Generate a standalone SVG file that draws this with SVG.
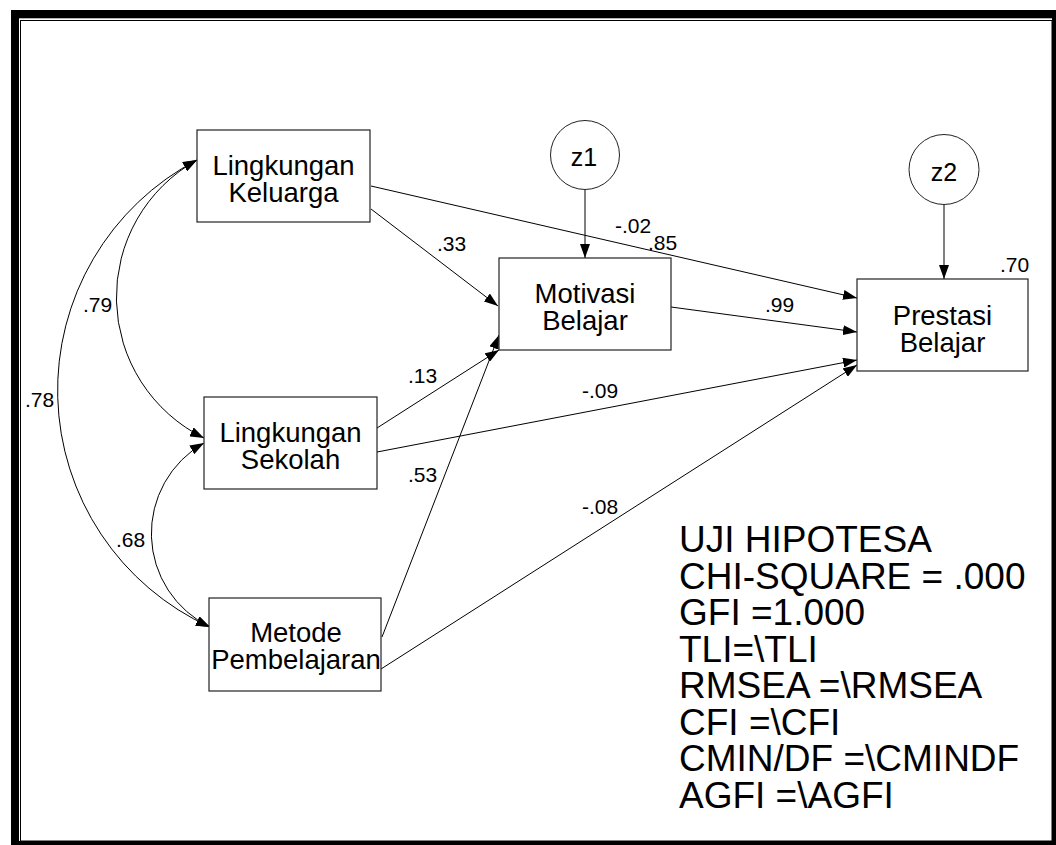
<svg xmlns="http://www.w3.org/2000/svg" width="1056" height="845" viewBox="0 0 1056 845">
<style>
.box{fill:#fff;stroke:#222;stroke-width:1.2}
.circ{fill:#fff;stroke:#222;stroke-width:1}
.nt{font-family:"Liberation Sans",Arial,sans-serif;font-size:27.5px;text-anchor:middle;fill:#000}
.zt{font-family:"Liberation Sans",Arial,sans-serif;font-size:25px;text-anchor:middle;fill:#000}
.lb{font-family:"Liberation Sans",Arial,sans-serif;font-size:21px;fill:#000}
.big{font-family:"Liberation Sans",Arial,sans-serif;font-size:37px;fill:#000}
.ln{fill:none;stroke:#000;stroke-width:1;marker-end:url(#ah)}
.cv{fill:none;stroke:#000;stroke-width:1;marker-start:url(#ah);marker-end:url(#ah)}
</style>
<defs>
<marker id="ah" markerUnits="userSpaceOnUse" markerWidth="14" markerHeight="10" refX="14" refY="5" orient="auto-start-reverse" viewBox="0 0 14 10">
<path d="M0,0 L14,5 L0,10 z" fill="#000"/>
</marker>
</defs>
<rect x="0" y="0" width="1056" height="845" fill="#fff"/>
<g id="frame">
<rect x="11" y="10" width="1045" height="835" fill="#000"/>
<rect x="19" y="18.3" width="1033" height="822.7" fill="#fff"/>
<rect x="20.5" y="20.5" width="1031.5" height="820.5" fill="none" stroke="#000" stroke-width="1"/>
</g>
<g id="connectors">
<line class="ln" x1="585" y1="189.5" x2="585" y2="258"/>
<line class="ln" x1="944" y1="204" x2="944" y2="279"/>
<line class="ln" x1="371" y1="209" x2="498" y2="306"/>
<line class="ln" x1="371" y1="186" x2="857" y2="298"/>
<line class="ln" x1="671" y1="307" x2="857" y2="332"/>
<line class="ln" x1="377" y1="428" x2="499" y2="350"/>
<line class="ln" x1="377" y1="452" x2="857" y2="360"/>
<line class="ln" x1="382" y1="637" x2="499" y2="335"/>
<line class="ln" x1="381" y1="669" x2="857" y2="365"/>
<path class="cv" d="M197,160 A157,157 0 0,0 204,438"/>
<path class="cv" d="M197,160 A260,260 0 0,0 210,627"/>
<path class="cv" d="M204,443 A104,104 0 0,0 210,627"/>
</g>
<g id="labels">
<text class="lb" x="437" y="251">.33</text>
<text class="lb" x="615" y="233">-.02</text>
<text class="lb" x="648" y="250">.85</text>
<text class="lb" x="765" y="312">.99</text>
<text class="lb" x="1000" y="272">.70</text>
<text class="lb" x="408" y="383">.13</text>
<text class="lb" x="582" y="398">-.09</text>
<text class="lb" x="408" y="482">.53</text>
<text class="lb" x="582" y="514">-.08</text>
<text class="lb" x="83" y="312">.79</text>
<text class="lb" x="25" y="407">.78</text>
<text class="lb" x="116" y="547">.68</text>
</g>
<g id="lingkungan-keluarga">
<rect class="box" x="197" y="130" width="173" height="92"/>
<text class="nt" x="283.5" y="175">Lingkungan</text>
<text class="nt" x="283.5" y="202">Keluarga</text>
</g>
<g id="motivasi-belajar">
<rect class="box" x="499" y="258" width="172" height="92"/>
<text class="nt" x="585" y="303">Motivasi</text>
<text class="nt" x="585" y="329.5">Belajar</text>
</g>
<g id="prestasi-belajar">
<rect class="box" x="857" y="279" width="171" height="92"/>
<text class="nt" x="942.5" y="325">Prestasi</text>
<text class="nt" x="942.5" y="352">Belajar</text>
</g>
<g id="lingkungan-sekolah">
<rect class="box" x="204" y="397" width="173" height="92"/>
<text class="nt" x="290.5" y="442">Lingkungan</text>
<text class="nt" x="290.5" y="469">Sekolah</text>
</g>
<g id="metode-pembelajaran">
<rect class="box" x="209" y="598" width="172" height="93"/>
<text class="nt" x="296" y="642">Metode</text>
<text class="nt" x="296" y="669">Pembelajaran</text>
</g>
<g id="z1">
<circle class="circ" cx="585" cy="155" r="34.5"/>
<text class="zt" x="584" y="165.5">z1</text>
</g>
<g id="z2">
<circle class="circ" cx="944" cy="169.5" r="35"/>
<text class="zt" x="944" y="181">z2</text>
</g>
<g id="fit-indices">
<text class="big" x="679" y="552">UJI HIPOTESA</text>
<text class="big" x="679" y="588.5">CHI-SQUARE = .000</text>
<text class="big" x="679" y="625">GFI =1.000</text>
<text class="big" x="679" y="661.5">TLI=\TLI</text>
<text class="big" x="679" y="698">RMSEA =\RMSEA</text>
<text class="big" x="679" y="734.5">CFI =\CFI</text>
<text class="big" x="679" y="771">CMIN/DF =\CMINDF</text>
<text class="big" x="679" y="807.5">AGFI =\AGFI</text>
</g>
</svg>
